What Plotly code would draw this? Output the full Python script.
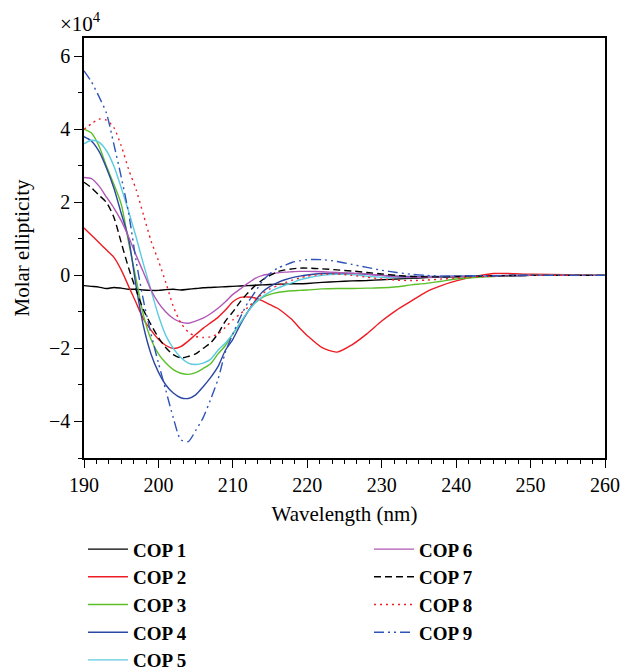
import plotly.graph_objects as go

wavelength = [190, 191, 192, 193, 194, 195, 196, 197, 198, 199,
              200, 201, 202, 203, 204, 205, 206, 207, 208, 209,
              210, 211, 212, 213, 214, 215, 216, 217, 218, 219,
              220, 222, 224, 226, 228, 230, 232, 234, 236, 238,
              240, 245, 250, 255, 260]

cop1 = [-0.28, -0.3, -0.32, -0.36, -0.33, -0.35, -0.38, -0.38, -0.4, -0.41,
        -0.41, -0.39, -0.38, -0.4, -0.38, -0.36, -0.34, -0.33, -0.32, -0.31,
        -0.3, -0.29, -0.28, -0.27, -0.26, -0.25, -0.24, -0.24, -0.23, -0.23,
        -0.22, -0.19, -0.17, -0.15, -0.14, -0.12, -0.1, -0.08, -0.06, -0.05,
        -0.04, -0.02, 0.0, 0.0, 0.0]

cop2 = [1.3, 1.1, 0.9, 0.7, 0.5, 0.15, -0.3, -0.75, -1.2, -1.5,
        -1.75, -1.92, -2.0, -1.95, -1.8, -1.62, -1.45, -1.3, -1.15, -0.95,
        -0.72, -0.6, -0.59, -0.62, -0.7, -0.8, -0.9, -1.05, -1.22, -1.45,
        -1.65, -1.98, -2.1, -1.9, -1.6, -1.25, -0.95, -0.7, -0.45, -0.28,
        -0.15, 0.05, 0.03, 0.02, 0.0]

cop3 = [4.0, 3.9, 3.55, 3.0, 2.5, 1.95, 0.9, -0.1, -1.1, -1.75,
        -2.15, -2.4, -2.58, -2.68, -2.71, -2.66, -2.55, -2.42, -2.15, -1.92,
        -1.6, -1.3, -1.0, -0.75, -0.6, -0.52, -0.47, -0.44, -0.42, -0.41,
        -0.4, -0.37, -0.36, -0.36, -0.35, -0.34, -0.31, -0.26, -0.22, -0.16,
        -0.1, -0.03, 0.0, 0.0, 0.0]

cop4 = [3.8, 3.68, 3.4, 2.95, 2.4, 1.7, 1.0, -0.3, -1.4, -2.15,
        -2.65, -3.0, -3.22, -3.35, -3.37, -3.27, -3.05, -2.8, -2.5, -2.05,
        -1.75, -1.35, -1.0, -0.7, -0.45, -0.3, -0.2, -0.12, -0.06, -0.02,
        0.01, 0.05, 0.06, 0.05, 0.03, 0.0, -0.02, -0.03, -0.03, -0.03,
        -0.02, -0.01, 0.0, 0.0, 0.0]

cop5 = [3.6, 3.7, 3.65, 3.42, 3.0, 2.4, 1.75, 1.05, 0.3, -0.4,
        -1.1, -1.65, -2.0, -2.25, -2.4, -2.44, -2.4, -2.3, -2.05, -1.85,
        -1.6, -1.3, -1.0, -0.75, -0.58, -0.45, -0.35, -0.27, -0.2, -0.12,
        -0.07, 0.0, 0.03, 0.02, -0.02, -0.05, -0.06, -0.06, -0.05, -0.04,
        -0.03, -0.01, 0.0, 0.0, 0.0]

cop6 = [2.68, 2.65, 2.45, 2.15, 1.85, 1.5, 1.05, 0.55, 0.08, -0.4,
        -0.75, -1.0, -1.18, -1.28, -1.31, -1.25, -1.17, -1.05, -0.9, -0.72,
        -0.52, -0.37, -0.22, -0.08, 0.0, 0.04, 0.07, 0.09, 0.1, 0.11,
        0.11, 0.1, 0.08, 0.06, 0.04, 0.0, -0.04, -0.05, -0.05, -0.04,
        -0.03, -0.01, 0.0, 0.0, 0.0]

cop7 = [2.55, 2.4, 2.2, 2.0, 1.6, 0.9, 0.2, -0.4, -0.95, -1.35,
        -1.7, -1.98, -2.17, -2.26, -2.22, -2.15, -2.0, -1.85, -1.6, -1.25,
        -1.0, -0.72, -0.48, -0.28, -0.12, 0.0, 0.1, 0.15, 0.18, 0.2,
        0.2, 0.18, 0.15, 0.12, 0.08, 0.04, 0.0, -0.03, -0.04, -0.04,
        -0.03, -0.01, 0.0, 0.0, 0.0]

cop8 = [4.0, 4.15, 4.28, 4.25, 4.05, 3.55, 2.9, 2.35, 1.65, 0.95,
        0.4, -0.2, -0.85, -1.3, -1.55, -1.67, -1.7, -1.68, -1.6, -1.42,
        -1.22, -1.05, -0.88, -0.68, -0.5, -0.37, -0.28, -0.2, -0.13, -0.07,
        -0.02, 0.03, 0.04, 0.0, -0.05, -0.1, -0.13, -0.14, -0.13, -0.1,
        -0.07, -0.02, 0.0, 0.0, 0.0]

cop9 = [5.6, 5.3, 4.9, 4.45, 3.6, 2.7, 1.7, 0.4, -0.7, -1.6,
        -2.4, -3.15, -3.9, -4.5, -4.55, -4.25, -3.9, -3.4, -2.85, -2.1,
        -1.6, -1.15, -0.75, -0.45, -0.15, 0.05, 0.2, 0.28, 0.36, 0.4,
        0.43, 0.43, 0.38, 0.3, 0.22, 0.14, 0.08, 0.03, 0.0, -0.02,
        -0.02, -0.01, 0.0, 0.0, 0.0]

names = ["COP 1", "COP 2", "COP 3", "COP 4", "COP 5", "COP 6", "COP 7", "COP 8", "COP 9"]
series = [cop1, cop2, cop3, cop4, cop5, cop6, cop7, cop8, cop9]
colors = ["#000000", "#ee1c24", "#5cbf2a", "#2b47a3", "#5ccbe0", "#b157b5", "#000000", "#ee1c24", "#2f54b8"]
dashes = ["solid", "solid", "solid", "solid", "solid", "solid", "7px,4px", "2px,4px", "10px,4px,2px,4px,2px,4px"]

FONT = "Liberation Serif"

fig = go.Figure()
for i, (nm, ys) in enumerate(zip(names, series)):
    fig.add_trace(go.Scatter(
        x=wavelength, y=ys, mode="lines", name="<b>" + nm + "</b>",
        line=dict(color=colors[i], width=1.4, dash=dashes[i], shape="spline", smoothing=0.7),
        legend="legend" if i < 5 else "legend2",
        legendgroup=nm,
    ))

axis_common = dict(
    showline=True, linecolor="black", linewidth=1.5, mirror=True,
    ticks="outside", ticklen=8, tickwidth=1.3, tickcolor="black",
    showgrid=False, zeroline=False, automargin=False,
    tickfont=dict(family=FONT, size=20, color="black"),
)

fig.update_xaxes(
    range=[190, 260], tick0=190, dtick=10,
    title=dict(text="Wavelength (nm)", font=dict(family=FONT, size=21, color="black"), standoff=12),
    minor=dict(ticks="outside", ticklen=4, tickcolor="black", tick0=190, dtick=10 / 6),
    **axis_common,
)
fig.update_yaxes(
    range=[-5, 6.5],
    tickvals=[-4, -2, 0, 2, 4, 6], ticktext=["\u22124", "\u22122", "0", "2", "4", "6"],
    title=dict(text="Molar ellipticity", font=dict(family=FONT, size=21, color="black"), standoff=14),
    minor=dict(ticks="outside", ticklen=4, tickcolor="black", tickvals=[-5, -3, -1, 1, 3, 5]),
    **axis_common,
)

legend_common = dict(
    font=dict(family=FONT, size=19, color="black"),
    bgcolor="rgba(0,0,0,0)", borderwidth=0,
    orientation="v", xanchor="left", yanchor="top",
    tracegroupgap=0, itemwidth=40,
)

fig.update_layout(
    width=622, height=667,
    margin=dict(l=84, r=17, t=38, b=209, autoexpand=False),
    plot_bgcolor="white", paper_bgcolor="white",
    legend=dict(x=-0.002, y=-0.172, **legend_common),
    legend2=dict(x=0.547, y=-0.172, **legend_common),
    annotations=[dict(
        text="\u00d710<sup>4</sup>", xref="paper", yref="paper", x=-0.05, y=1.0,
        xanchor="left", yanchor="bottom", showarrow=False,
        font=dict(family=FONT, size=21, color="black"),
    )],
)

fig.write_html(
    "out.html",
    config={"displayModeBar": False},
    post_script="document.body.style.margin='0';document.body.style.overflow='hidden';"
                "document.documentElement.style.overflow='hidden';",
)
